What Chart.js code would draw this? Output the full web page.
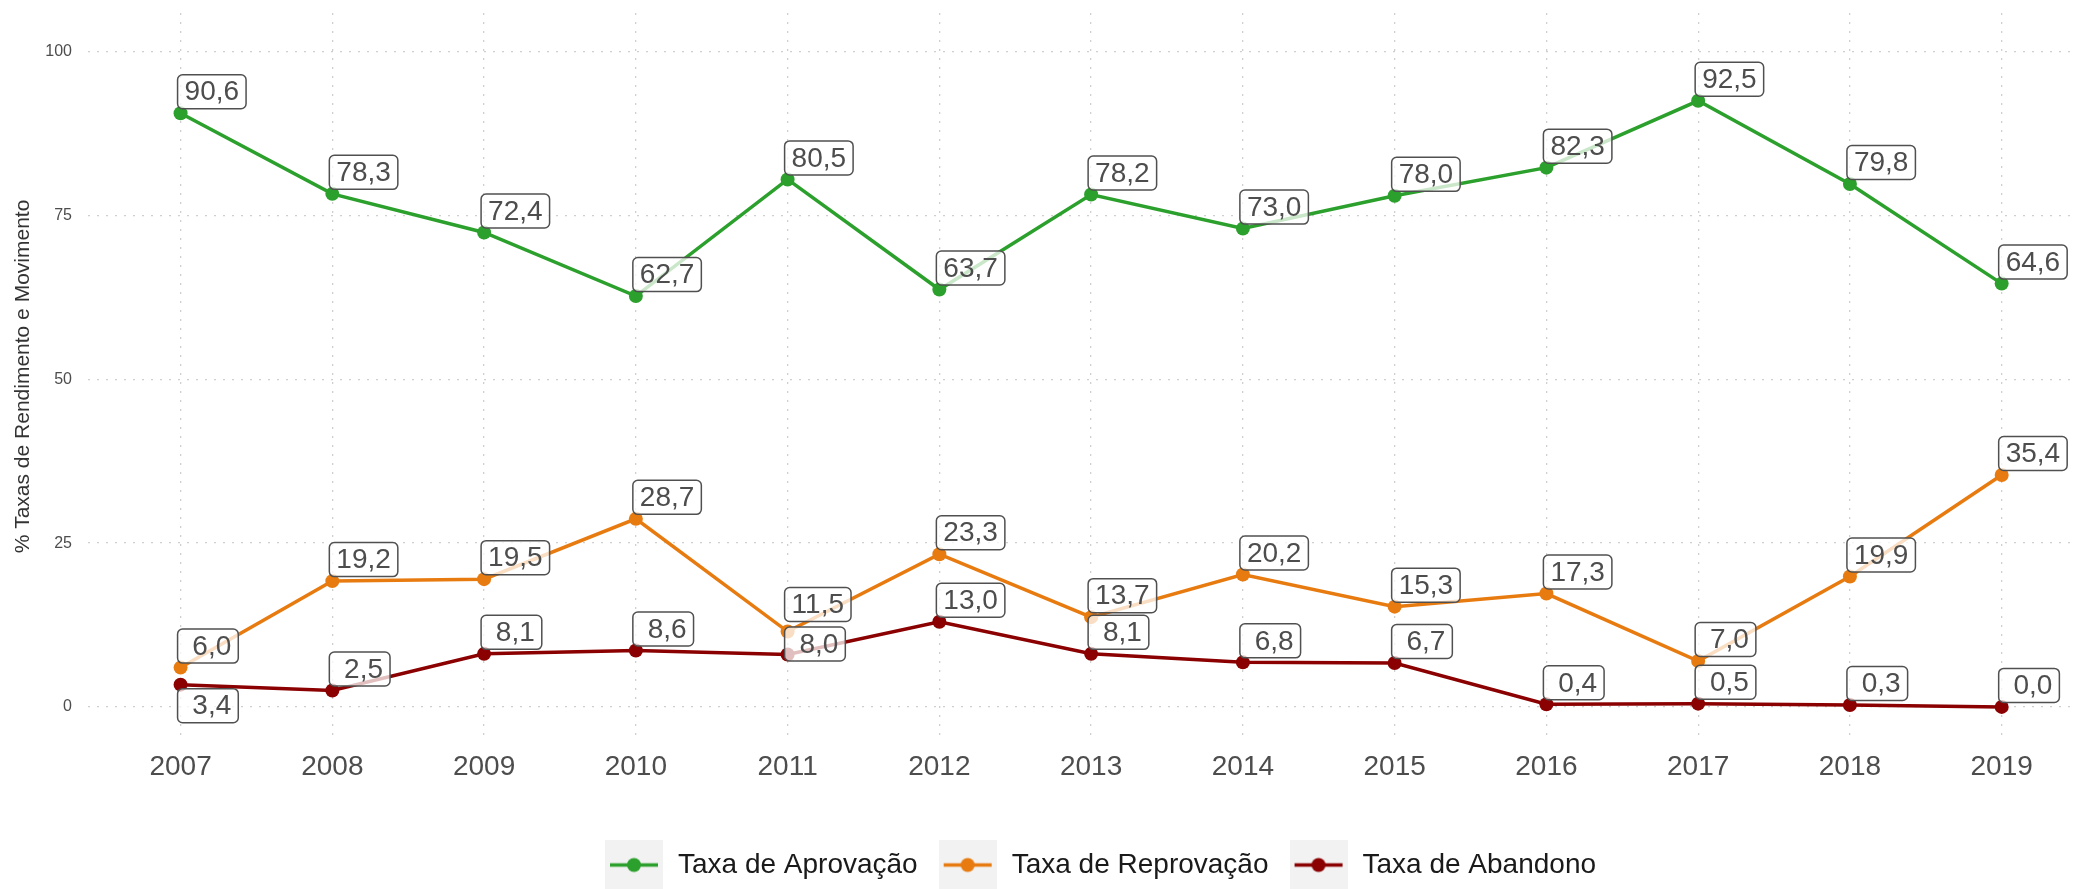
<!DOCTYPE html>
<html lang="pt-BR">
<head>
<meta charset="utf-8">
<title>Taxas de Rendimento e Movimento</title>
<script src="https://cdn.jsdelivr.net/npm/chart.js@4.4.1/dist/chart.umd.min.js"></script>
<style>
  html, body { margin: 0; padding: 0; background: #fff; }
  #wrap { width: 2080px; height: 889px; position: relative; }
</style>
</head>
<body>
<div id="wrap"><canvas id="taxasChart"></canvas></div>
<script>
'use strict';

// ---------------------------------------------------------------------------
// Dados
// ---------------------------------------------------------------------------

const anos       = [2007, 2008, 2009, 2010, 2011, 2012, 2013, 2014, 2015, 2016, 2017, 2018, 2019];
const aprovacao  = [90.6, 78.3, 72.4, 62.7, 80.5, 63.7, 78.2, 73.0, 78.0, 82.3, 92.5, 79.8, 64.6];
const reprovacao = [ 6.0, 19.2, 19.5, 28.7, 11.5, 23.3, 13.7, 20.2, 15.3, 17.3,  7.0, 19.9, 35.4];
const abandono   = [ 3.4,  2.5,  8.1,  8.6,  8.0, 13.0,  8.1,  6.8,  6.7,  0.4,  0.5,  0.3,  0.0];
const yTicks     = [0, 25, 50, 75, 100];

const FONT = '"Liberation Sans", Arial, Helvetica, sans-serif';

const SERIES = [
  { key: 'aprovacao',  label: 'Taxa de Aprovação',  values: aprovacao,  color: '#2ca02c' },
  { key: 'reprovacao', label: 'Taxa de Reprovação', values: reprovacao, color: '#e87b10' },
  { key: 'abandono',   label: 'Taxa de Abandono',   values: abandono,   color: '#8b0000' },
];

// labels that were pushed off their usual spot (px, positive = down)
const LABEL_SHIFT = {
  reprovacao: { 2011: -5.5 },
  abandono:   { 2007: 42.5, 2011: 11 },
};

// ---------------------------------------------------------------------------
// Helpers
// ---------------------------------------------------------------------------

function fmtLabel(v) {
  return v.toFixed(1).replace('.', ',').padStart(4, ' ');
}

function legendKey(color) {
  const c = document.createElement('canvas');
  c.width = 58;
  c.height = 51;
  const g = c.getContext('2d');
  g.fillStyle = '#f2f2f2';
  g.fillRect(0, 0, c.width, c.height);
  g.strokeStyle = color;
  g.lineWidth = 3.5;
  g.beginPath();
  g.moveTo(5, 25.5);
  g.lineTo(53, 25.5);
  g.stroke();
  g.fillStyle = color;
  g.beginPath();
  g.arc(29, 25.5, 7, 0, Math.PI * 2);
  g.fill();
  return c;
}

// boxed value labels, sitting up and to the right of each point
const valueLabels = {
  id: 'valueLabels',
  afterDatasetsDraw(chart) {
    const ctx = chart.ctx;
    ctx.save();
    ctx.font = `28px ${FONT}`;
    ctx.textAlign = 'left';
    ctx.textBaseline = 'middle';
    chart.data.datasets.forEach((ds, di) => {
      const meta   = chart.getDatasetMeta(di);
      const shifts = LABEL_SHIFT[ds.key] || {};
      meta.data.forEach((pt, i) => {
        const d    = ds.data[i];
        const text = fmtLabel(d.y);
        const w    = ctx.measureText(text).width + 14;
        const h    = 34;
        const x0   = pt.x - 3;
        const y0   = pt.y - 4.5 + (shifts[d.x] || 0) - h;
        ctx.beginPath();
        ctx.roundRect(x0, y0, w, h, 5);
        ctx.fillStyle = 'rgba(255,255,255,0.75)';
        ctx.fill();
        ctx.lineWidth = 1.5;
        ctx.strokeStyle = '#505050';
        ctx.stroke();
        ctx.fillStyle = '#4d4d4d';
        ctx.fillText(text, x0 + 7, y0 + h / 2 + 1);
      });
    });
    ctx.restore();
  },
};

const legendNudge = {
  id: 'legendNudge',
  afterLayout(chart) {
    chart.legend.left  += 60;
    chart.legend.right += 60;
  },
};

// ---------------------------------------------------------------------------
// Chart
// ---------------------------------------------------------------------------

const legendKeys = SERIES.map(s => legendKey(s.color));

const gridStyle = { color: '#cfcfcf', lineWidth: 1.3, drawTicks: false };

new Chart(document.getElementById('taxasChart'), {
  type: 'line',
  data: {
    datasets: SERIES.map(s => ({
      key:                  s.key,
      label:                s.label,
      data:                 anos.map((a, i) => ({ x: a, y: s.values[i] })),
      borderColor:          s.color,
      backgroundColor:      s.color,
      borderWidth:          3.5,
      pointRadius:          7,
      pointBorderWidth:     0,
      pointBackgroundColor: s.color,
      tension:              0,
    })),
  },
  options: {
    responsive: true,
    maintainAspectRatio: false,
    animation: false,
    layout: { padding: { top: 13, left: 0, right: 0, bottom: 0 } },
    plugins: {
      tooltip: { enabled: false },
      legend: {
        position: 'bottom',
        labels: {
          usePointStyle:   true,
          pointStyleWidth: 60,
          padding:         20,
          color:           '#1a1a1a',
          font:            { family: FONT, size: 28 },
          generateLabels(chart) {
            const items = Chart.defaults.plugins.legend.labels.generateLabels(chart);
            items.forEach((it, i) => { it.pointStyle = legendKeys[i]; });
            return items;
          },
        },
      },
    },
    scales: {
      x: {
        type: 'linear',
        min:  2006.39,
        max:  2019.47,
        grid:   gridStyle,
        border: { display: false, dash: [2, 7] },
        afterBuildTicks: s => { s.ticks = anos.map(v => ({ value: v })); },
        afterFit: s => {
          s.height = 91;
          s.paddingLeft = 0;
          s.paddingRight = 0;
        },
        ticks: {
          color:    '#4d4d4d',
          font:     { family: FONT, size: 28 },
          padding:  10,
          callback: v => String(v),
        },
      },
      y: {
        min: -5.05,
        max: 105.9,
        grid:   gridStyle,
        border: { display: false, dash: [2, 7] },
        afterBuildTicks: s => { s.ticks = yTicks.map(v => ({ value: v })); },
        afterFit: s => {
          s.width = 88;
          s.paddingTop = 0;
          s.paddingBottom = 0;
        },
        ticks: {
          color:   '#4d4d4d',
          font:    { family: FONT, size: 16 },
          padding: 16,
        },
        title: {
          display: true,
          text:    '% Taxas de Rendimento e Movimento',
          color:   '#333',
          font:    { family: FONT, size: 21 },
          padding: { top: 11, bottom: 0 },
        },
      },
    },
  },
  plugins: [valueLabels, legendNudge],
});
</script>
</body>
</html>
